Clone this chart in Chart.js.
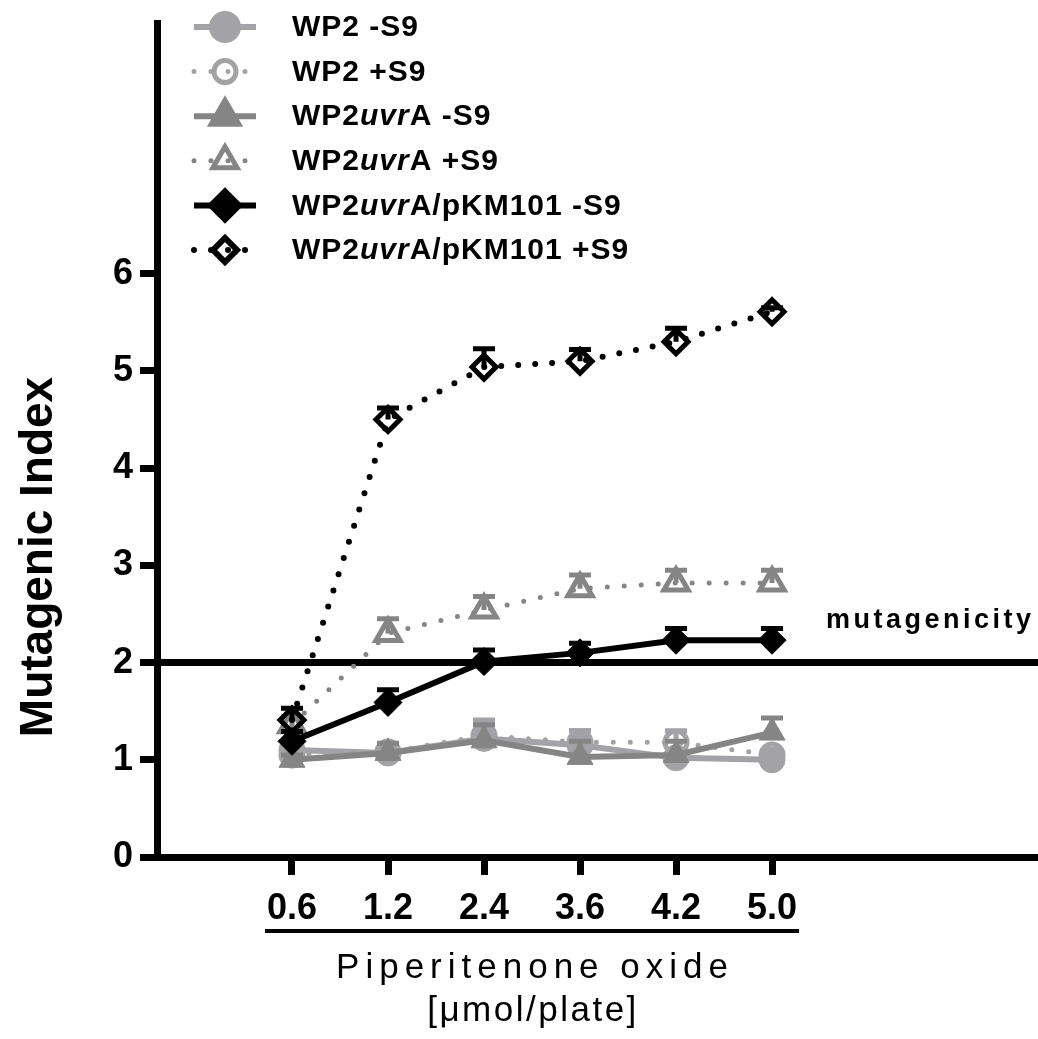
<!DOCTYPE html>
<html>
<head>
<meta charset="utf-8">
<title>Mutagenic Index – Piperitenone oxide</title>
<script src="https://cdn.jsdelivr.net/npm/chart.js@4.4.1/dist/chart.umd.min.js"></script>
<style>
  html, body { margin: 0; padding: 0; background: #fff; }
  #wrap { width: 1038px; height: 1039px; }
</style>
</head>
<body>
<div id="wrap"><canvas id="chart" width="1038" height="1039"></canvas></div>
<script>
/* ----------------------------------------------------------
   DATA
---------------------------------------------------------- */
const DOSE_LABELS = ['0.6', '1.2', '2.4', '3.6', '4.2', '5.0'];
const Y_TICKS     = [0, 1, 2, 3, 4, 5, 6];
const THRESHOLD   = 2;

const WP2_MINUS          = [1.10, 1.07, 1.22, 1.15, 1.02, 1.00];
const WP2_MINUS_ERR      = [0.05, 0.05, 0.18, 0.15, 0.05, 0.03];
const WP2_PLUS           = [1.05, 1.08, 1.25, 1.18, 1.18, 1.05];
const WP2_PLUS_ERR       = [0.05, 0.08, 0.16, 0.12, 0.12, 0.05];
const UVRA_MINUS         = [1.00, 1.07, 1.20, 1.03, 1.05, 1.28];
const UVRA_MINUS_ERR     = [0.05, 0.10, 0.16, 0.16, 0.14, 0.15];
const UVRA_PLUS          = [1.36, 2.30, 2.54, 2.76, 2.82, 2.82];
const UVRA_PLUS_ERR      = [0.08, 0.15, 0.14, 0.14, 0.13, 0.13];
const PKM_MINUS          = [1.19, 1.59, 2.01, 2.10, 2.23, 2.23];
const PKM_MINUS_ERR      = [0.10, 0.13, 0.12, 0.10, 0.12, 0.12];
const PKM_PLUS           = [1.41, 4.50, 5.04, 5.10, 5.30, 5.61];
const PKM_PLUS_ERR       = [0.12, 0.12, 0.19, 0.12, 0.14, 0.04];

const SERIES_LABELS = [
  'WP2 -S9', 'WP2 +S9', 'WP2uvrA -S9', 'WP2uvrA +S9',
  'WP2uvrA/pKM101 -S9', 'WP2uvrA/pKM101 +S9',
];

/* ----------------------------------------------------------
   STYLE
---------------------------------------------------------- */
const FONT  = '"Liberation Sans", Arial, Helvetica, sans-serif';
const LIGHT = '#a3a3a7';
const DARK  = '#858585';
const BLACK = '#000000';

const Y_MAX = 8.58;    // top of the drawn y axis
const X_MIN = -1.406;  // axis runs from the y axis to the right edge
const X_MAX = 7.77;

const STYLES = [
  { color: LIGHT, dotted: false, pointStyle: 'circle',   radius: 13, open: false, width: 6 },
  { color: LIGHT, dotted: true,  pointStyle: 'circle',   radius: 11, open: true,  width: 5 },
  { color: DARK,  dotted: false, pointStyle: 'triangle', radius: 15, open: false, width: 6 },
  { color: DARK,  dotted: true,  pointStyle: 'triangle', radius: 14, open: true,  width: 5 },
  { color: BLACK, dotted: false, pointStyle: 'rectRot',  radius: 14, open: false, width: 6 },
  { color: BLACK, dotted: true,  pointStyle: 'rectRot',  radius: 12, open: true,  width: 6 },
];

const VALUES = [WP2_MINUS, WP2_PLUS, UVRA_MINUS, UVRA_PLUS, PKM_MINUS, PKM_PLUS];
const ERRORS = [WP2_MINUS_ERR, WP2_PLUS_ERR, UVRA_MINUS_ERR, UVRA_PLUS_ERR, PKM_MINUS_ERR, PKM_PLUS_ERR];

/* ----------------------------------------------------------
   DATASETS
---------------------------------------------------------- */
const datasets = SERIES_LABELS.map((label, i) => {
  const s = STYLES[i];
  return {
    label,
    data: VALUES[i].map((v, j) => ({ x: j, y: v })),
    errors: ERRORS[i],
    borderColor: s.color,
    borderWidth: s.width,
    borderDash: s.dotted ? [0, 17] : [],
    borderCapStyle: s.dotted ? 'round' : 'butt',
    pointStyle: s.pointStyle,
    pointRadius: s.radius,
    pointHoverRadius: s.radius,
    pointBackgroundColor: s.open ? 'rgba(0,0,0,0)' : s.color,
    pointBorderColor: s.color,
    pointBorderWidth: s.open ? 5 : 1,
    tension: 0,
    fill: false,
    order: SERIES_LABELS.length - i,
  };
});

// mutagenicity threshold line
datasets.push({
  label: 'threshold',
  data: [{ x: X_MIN, y: THRESHOLD }, { x: X_MAX, y: THRESHOLD }],
  borderColor: BLACK,
  borderWidth: 7,
  pointRadius: 0,
  order: 20,
});

/* ----------------------------------------------------------
   PLUGINS
---------------------------------------------------------- */
const errorBars = {
  id: 'errorBars',
  beforeDatasetDraw(chart, args) {
    const ds = chart.data.datasets[args.index];
    if (!ds.errors) return;
    const ctx = chart.ctx;
    const ys  = chart.scales.y;
    ctx.save();
    ctx.strokeStyle = ds.borderColor;
    ctx.lineWidth = 5;
    ctx.setLineDash([]);
    args.meta.data.forEach((pt, j) => {
      const top = ys.getPixelForValue(ds.data[j].y + ds.errors[j]);
      ctx.beginPath();
      ctx.moveTo(pt.x, pt.y);
      ctx.lineTo(pt.x, top);
      ctx.moveTo(pt.x - 11, top);
      ctx.lineTo(pt.x + 11, top);
      ctx.stroke();
    });
    ctx.restore();
  },
};

function drawLegendLabel(ctx, text, x, y) {
  const parts = text.split(/(uvr)/);
  let cx = x;
  parts.forEach(p => {
    if (!p) return;
    ctx.font = (p === 'uvr' ? 'italic bold ' : 'bold ') + '30px ' + FONT;
    ctx.fillText(p, cx, y);
    cx += ctx.measureText(p).width;
  });
}

const decorations = {
  id: 'decorations',
  afterDraw(chart) {
    const ctx = chart.ctx;
    const xs  = chart.scales.x;
    ctx.save();
    ctx.fillStyle = BLACK;

    // y axis title
    ctx.save();
    ctx.translate(52, 557);
    ctx.rotate(-Math.PI / 2);
    ctx.font = 'bold 46px ' + FONT;
    ctx.textAlign = 'center';
    ctx.textBaseline = 'alphabetic';
    ctx.fillText('Mutagenic Index', 0, 0);
    ctx.restore();

    // underline below dose labels
    const x0 = xs.getPixelForValue(0);
    const x5 = xs.getPixelForValue(DOSE_LABELS.length - 1);
    ctx.fillRect(x0 - 27, 929, (x5 - x0) + 54, 4);

    // x axis title
    const cx = (x0 + x5) / 2;
    ctx.textAlign = 'center';
    ctx.textBaseline = 'alphabetic';
    ctx.font = '35px ' + FONT;
    ctx.letterSpacing = '6px';
    ctx.fillText('Piperitenone oxide', cx + 3, 978);
    ctx.letterSpacing = '2.5px';
    ctx.fillText('[\u03bcmol/plate]', cx + 1, 1021);

    // threshold label
    ctx.textAlign = 'left';
    ctx.font = 'bold 27px ' + FONT;
    ctx.letterSpacing = '3.5px';
    ctx.fillText('mutagenicity', 826, 628);
    ctx.letterSpacing = '0px';

    // legend
    const LX0 = 194, LX1 = 256, LMX = 225, LTX = 292, LY0 = 27, LDY = 44.6;
    SERIES_LABELS.forEach((label, i) => {
      const s  = STYLES[i];
      const ly = LY0 + i * LDY;
      ctx.save();
      ctx.strokeStyle = s.color;
      if (s.dotted) {
        ctx.lineWidth = s.width;
        ctx.lineCap = 'round';
        ctx.setLineDash([0, 17]);
      } else {
        ctx.lineWidth = 6;
        ctx.lineCap = 'butt';
        ctx.setLineDash([]);
      }
      ctx.beginPath();
      ctx.moveTo(LX0, ly);
      ctx.lineTo(LX1, ly);
      ctx.stroke();
      ctx.setLineDash([]);
      ctx.fillStyle = s.open ? 'rgba(0,0,0,0)' : s.color;
      Chart.helpers.drawPoint(ctx, {
        pointStyle: s.pointStyle,
        radius: s.radius,
        rotation: 0,
        borderWidth: s.open ? 5 : 1,
      }, LMX, ly);
      ctx.restore();

      ctx.fillStyle = BLACK;
      ctx.textAlign = 'left';
      ctx.textBaseline = 'middle';
      ctx.letterSpacing = '1px';
      drawLegendLabel(ctx, label, LTX, ly + 1);
      ctx.letterSpacing = '0px';
    });

    ctx.restore();
  },
};

/* ----------------------------------------------------------
   CHART
---------------------------------------------------------- */
new Chart(document.getElementById('chart').getContext('2d'), {
  type: 'line',
  data: { datasets },
  options: {
    responsive: false,
    animation: false,
    events: [],
    layout: { autoPadding: false, padding: { top: 23, right: 0, bottom: 0, left: 0 } },
    plugins: {
      legend: { display: false },
      tooltip: { enabled: false },
    },
    scales: {
      x: {
        type: 'linear',
        min: X_MIN,
        max: X_MAX,
        afterBuildTicks: s => { s.ticks = DOSE_LABELS.map((_, i) => ({ value: i })); },
        afterFit: s => { s.height = 182; s.paddingLeft = 0; s.paddingRight = 0; },
        border: { display: true, color: BLACK, width: 7 },
        grid: { drawOnChartArea: false, drawTicks: true, tickLength: 18, tickWidth: 7, color: BLACK, tickColor: BLACK },
        ticks: {
          autoSkip: false,
          maxRotation: 0,
          padding: 12,
          color: BLACK,
          font: { family: FONT, size: 36, weight: 'bold' },
          callback: v => DOSE_LABELS[v],
        },
      },
      y: {
        type: 'linear',
        min: 0,
        max: Y_MAX,
        afterBuildTicks: s => { s.ticks = Y_TICKS.map(v => ({ value: v })); },
        afterFit: s => { s.width = 157; s.paddingTop = 0; s.paddingBottom = 0; },
        border: { display: true, color: BLACK, width: 7 },
        grid: { drawOnChartArea: false, drawTicks: true, tickLength: 17, tickWidth: 7, color: BLACK, tickColor: BLACK },
        ticks: {
          padding: 7,
          color: BLACK,
          font: { family: FONT, size: 36, weight: 'bold' },
          callback: v => String(v),
        },
      },
    },
  },
  plugins: [errorBars, decorations],
});
</script>
</body>
</html>
